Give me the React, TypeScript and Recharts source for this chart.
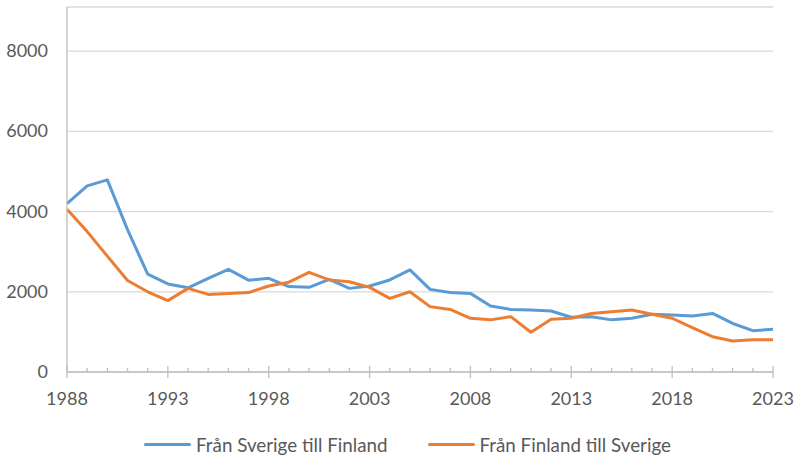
import React from 'react'
import { LineChart, Line, XAxis, YAxis, CartesianGrid, Legend } from 'recharts'

const years = [
  1988, 1989, 1990, 1991, 1992, 1993, 1994, 1995, 1996, 1997, 1998, 1999,
  2000, 2001, 2002, 2003, 2004, 2005, 2006, 2007, 2008, 2009, 2010, 2011,
  2012, 2013, 2014, 2015, 2016, 2017, 2018, 2019, 2020, 2021, 2022, 2023,
]
const fromSweden = [
  4200, 4640, 4790, 3550, 2440, 2195, 2100, 2335, 2560, 2290, 2335, 2130,
  2110, 2310, 2085, 2145, 2295, 2545, 2060, 1980, 1960, 1645, 1560, 1545,
  1520, 1365, 1380, 1300, 1340, 1440, 1420, 1395, 1460, 1210, 1030, 1065,
]
const fromFinland = [
  4060, 3500, 2890, 2280, 2000, 1780, 2085, 1935, 1960, 1980, 2145, 2240,
  2485, 2295, 2250, 2110, 1835, 2000, 1630, 1560, 1340, 1300, 1380, 990,
  1315, 1340, 1460, 1505, 1545, 1440, 1340, 1105, 880, 775, 805, 805,
]
const yTicks = [0, 2000, 4000, 6000, 8000]

const SERIES = [
  { key: 'se', name: 'Från Sverige till Finland', color: '#5B9BD5' },
  { key: 'fi', name: 'Från Finland till Sverige', color: '#ED7D31' },
]

const data = years.map((year, i) => ({ year, se: fromSweden[i], fi: fromFinland[i] }))

const FONT = 'Lato, "Noto Sans", sans-serif'
const TEXT = '#595959'
const AXIS = '#bfbfbf'

const XTick = (props: any) => {
  const { x, y, payload } = props
  const major = (payload.value - 1988) % 5 === 0
  return (
    <g>
      {major ? (
        <line x1={x} x2={x} y1={y - 6} y2={y + 6} stroke={AXIS} strokeWidth={1.3} />
      ) : (
        <line x1={x} x2={x} y1={y - 4} y2={y} stroke={AXIS} strokeWidth={1.3} />
      )}
      {major && (
        <text x={x} y={y + 33} textAnchor="middle" fill={TEXT} fontSize={18} fontFamily={FONT}>
          {payload.value}
        </text>
      )}
    </g>
  )
}

const YTick = (props: any) => {
  const { x, y, payload } = props
  return (
    <text x={x} y={y} dy={6} textAnchor="end" fill={TEXT} fontSize={18} fontFamily={FONT}>
      {payload.value}
    </text>
  )
}

const LegendContent = () => (
  <div style={{ display: 'flex', justifyContent: 'center', alignItems: 'center', height: 28, paddingLeft: 18 }}>
    {SERIES.map((s, i) => (
      <div key={s.key} style={{ display: 'flex', alignItems: 'center', marginLeft: i ? 40 : 0 }}>
        <div style={{ width: 47, height: 3, background: s.color, borderRadius: 2, marginRight: 5 }} />
        <span style={{ fontFamily: FONT, fontSize: 18.8, color: TEXT }}>{s.name}</span>
      </div>
    ))}
  </div>
)

export default function App() {
  return (
    <div style={{ position: 'absolute', left: 0, top: 0, background: '#fff' }}>
      <style>{'body{margin:0}'}</style>
      <LineChart width={797} height={456} data={data} margin={{ top: 7, right: 24, bottom: 26, left: 0 }}>
        <CartesianGrid vertical={false} stroke="#d9d9d9" strokeWidth={1.3} />
        <XAxis
          dataKey="year"
          type="number"
          domain={[1988, 2023]}
          ticks={years}
          interval={0}
          height={30}
          tickSize={0}
          tickMargin={0}
          tickLine={false}
          axisLine={{ stroke: AXIS, strokeWidth: 1.3 }}
          tick={<XTick />}
        />
        <YAxis
          domain={[0, 9100]}
          ticks={yTicks}
          width={67}
          tickSize={0}
          tickMargin={19}
          tickLine={false}
          axisLine={{ stroke: AXIS, strokeWidth: 1.3 }}
          tick={<YTick />}
        />
        <Legend
          verticalAlign="bottom"
          content={<LegendContent />}
          wrapperStyle={{ top: 430, left: 0, width: 797 }}
        />
        {SERIES.map((s) => (
          <Line
            key={s.key}
            dataKey={s.key}
            name={s.name}
            stroke={s.color}
            strokeWidth={3}
            dot={false}
            strokeLinejoin="round"
            isAnimationActive={false}
          />
        ))}
      </LineChart>
    </div>
  )
}
